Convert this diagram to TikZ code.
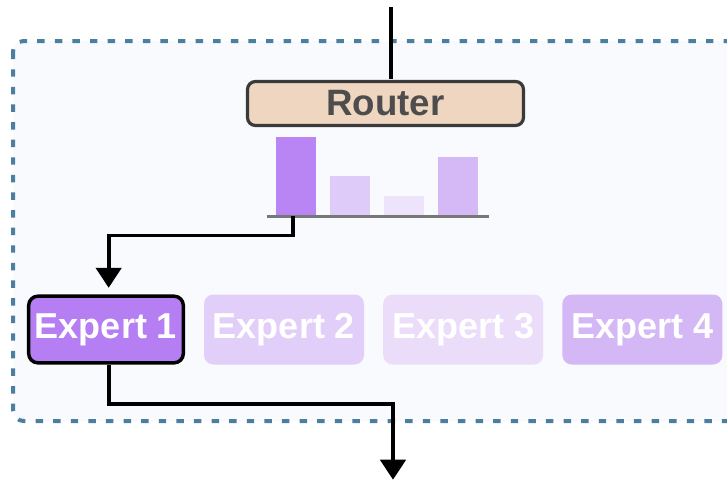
\documentclass[tikz,border=0pt]{standalone}
\usepackage{fontspec}
\setmainfont{Liberation Sans}
\usepackage{tikz}
\usetikzlibrary{
        arrows.meta,
        positioning
    }
\definecolor{layerline}{HTML}{4A7FA0}
\definecolor{layerbg}{HTML}{F8FAFE}
\definecolor{routerfill}{HTML}{EFD6C0}
\definecolor{routerline}{HTML}{3A3A3A}
\definecolor{routertext}{HTML}{4D4D4D}
\definecolor{axisgray}{HTML}{777777}
\definecolor{pone}{HTML}{B984F4}
\definecolor{ptwo}{HTML}{DFCBF9}
\definecolor{pthree}{HTML}{EDE3FB}
\definecolor{pfour}{HTML}{D4B9F6}
\definecolor{eone}{HTML}{B57EF2}
\definecolor{etwo}{HTML}{E2CFF9}
\definecolor{ethree}{HTML}{EBDDFA}
\definecolor{efour}{HTML}{D4B7F5}
\tikzset{>={Triangle[length=15pt,width=19pt]},shorten >=1pt}
\tikzset{flow/.style={line width=2.9pt,black}}
\tikzset{layer/.style={draw=layerline,fill=layerbg,line width=3pt,dash pattern=on 5.6pt off 7.6pt,rounded corners=8pt}}
\tikzset{router/.style={rectangle,draw=routerline,fill=routerfill,line width=2.4pt,rounded corners=6pt,
        minimum width=207pt,minimum height=33pt,text=routertext,font=\bfseries\fontsize{27.5}{30}\selectfont}}
\tikzset{bar/.style={rectangle,anchor=south,minimum width=30pt,inner sep=0pt}}
\tikzset{expert/.style={rectangle,rounded corners=7pt,minimum width=120pt,minimum height=52.5pt,
        text=white,font=\bfseries\fontsize{27}{30}\selectfont}}

\begin{document}
\begin{tikzpicture}[x=0.75pt,y=-0.75pt]
    \clip (0,0) rectangle (727,482);
    \fill[white] (0,0) rectangle (727,482);
    % MoE layer
    \draw[layer] (13,41) rectangle (770,421);
    \node[router] (router) at (385.5,103.5) {Router};
    % gate probabilities
    \draw[axisgray,line width=2.3pt] (267,216.5) -- (490,216.5);
    \node[bar,fill=pone,minimum height=58.5pt]   (b1) at (296,215.5) {};
    \node[bar,fill=ptwo,minimum height=29.5pt]   (b2) at (349.5,215.5) {};
    \node[bar,fill=pthree,minimum height=14.5pt] (b3) at (403.5,215.5) {};
    \node[bar,fill=pfour,minimum height=44pt]    (b4) at (457.5,215.5) {};
    % experts
    \node[expert,fill=eone,draw=black,line width=2.6pt,minimum width=116pt,minimum height=50pt] (e1) at (106,329.5) {Expert 1};
    \node[expert,fill=etwo,right=14pt of e1]   (e2) {Expert 2};
    \node[expert,fill=ethree,right=14pt of e2] (e3) {Expert 3};
    \node[expert,fill=efour,right=14pt of e3]  (e4) {Expert 4};
    % input and output
    \coordinate (in)  at (391,7);
    \coordinate (out) at (393,481);
    \draw[flow] (in) -- (in |- router.north);
    \draw[flow,->,shorten >=5pt] ([xshift=-2pt]b1.south) -- ++(0,20) -| ([xshift=2pt]e1.north);
    \draw[flow,->] ([xshift=2pt]e1.south) -- ++(0,39) -| (out);
\end{tikzpicture}
\end{document}
